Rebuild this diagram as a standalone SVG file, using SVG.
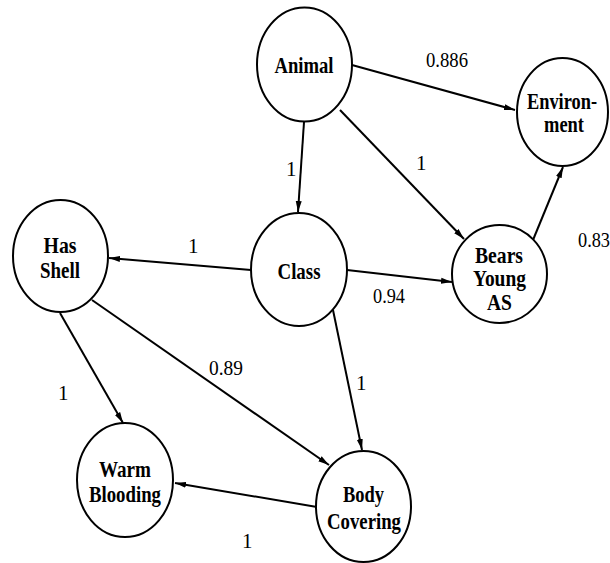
<svg xmlns="http://www.w3.org/2000/svg" width="610" height="563" viewBox="0 0 610 563" font-family="'Liberation Serif', 'DejaVu Serif', 'Times New Roman', serif">
  <defs>
    <marker id="arrow" markerUnits="userSpaceOnUse" markerWidth="12" markerHeight="8" refX="11" refY="0" viewBox="0 -4 12 8" orient="auto">
      <path d="M0,-3 L11,0 L0,3 z" fill="#000"/>
    </marker>
  </defs>
  <style>
    .node ellipse { fill: #fff; stroke: #000; stroke-width: 2; }
    .node text { font-family: 'Liberation Serif', 'DejaVu Serif', serif; font-weight: bold; font-size: 24px; text-anchor: middle; fill: #000; }
    .edge { fill: none; stroke: #000; stroke-width: 2; marker-end: url(#arrow); }
    .w { font-family: 'Liberation Serif', 'DejaVu Serif', serif; font-size: 21px; fill: #000; }
  </style>

  <!-- connectors -->
  <g id="edges">
    <line class="edge" x1="352" y1="65" x2="515" y2="110"/>
    <line class="edge" x1="304" y1="122" x2="298" y2="212"/>
    <line class="edge" x1="340" y1="110" x2="464" y2="239"/>
    <line class="edge" x1="533" y1="240" x2="563" y2="167"/>
    <line class="edge" x1="251" y1="270" x2="109" y2="258"/>
    <line class="edge" x1="347" y1="270" x2="452" y2="282"/>
    <line class="edge" x1="333" y1="310" x2="362" y2="450"/>
    <line class="edge" x1="60" y1="313" x2="123" y2="423"/>
    <line class="edge" x1="92" y1="300" x2="329" y2="465"/>
    <line class="edge" x1="317" y1="507" x2="175" y2="483"/>
  </g>

  <!-- edge weights -->
  <g id="weights">
    <text class="w" x="426" y="67" textLength="42" lengthAdjust="spacingAndGlyphs">0.886</text>
    <text class="w" x="286" y="176">1</text>
    <text class="w" x="416" y="170">1</text>
    <text class="w" x="578" y="247" textLength="32" lengthAdjust="spacingAndGlyphs">0.83</text>
    <text class="w" x="188" y="253">1</text>
    <text class="w" x="373" y="303" textLength="32" lengthAdjust="spacingAndGlyphs">0.94</text>
    <text class="w" x="209" y="375" textLength="34" lengthAdjust="spacingAndGlyphs">0.89</text>
    <text class="w" x="356" y="390">1</text>
    <text class="w" x="58" y="400">1</text>
    <text class="w" x="242" y="548">1</text>
  </g>

  <g id="animal" class="node">
    <ellipse cx="304.5" cy="64.5" rx="47.5" ry="57"/>
    <text x="304" y="73" textLength="59" lengthAdjust="spacingAndGlyphs">Animal</text>
  </g>

  <g id="environment" class="node">
    <ellipse cx="562.5" cy="112" rx="45.5" ry="54"/>
    <text x="562" y="109" textLength="70" lengthAdjust="spacingAndGlyphs">Environ-</text>
    <text x="564" y="132" textLength="40" lengthAdjust="spacingAndGlyphs">ment</text>
  </g>

  <g id="class" class="node">
    <ellipse cx="299" cy="269.5" rx="48" ry="56.5"/>
    <text x="299" y="279" textLength="43" lengthAdjust="spacingAndGlyphs">Class</text>
  </g>

  <g id="has-shell" class="node">
    <ellipse cx="60.5" cy="256" rx="47.5" ry="56"/>
    <text x="60" y="253" textLength="33" lengthAdjust="spacingAndGlyphs">Has</text>
    <text x="60" y="278" textLength="40" lengthAdjust="spacingAndGlyphs">Shell</text>
  </g>

  <g id="bears-young" class="node">
    <ellipse cx="499.5" cy="274" rx="47.5" ry="49"/>
    <text x="499" y="263" textLength="48" lengthAdjust="spacingAndGlyphs">Bears</text>
    <text x="499.5" y="286" textLength="53" lengthAdjust="spacingAndGlyphs">Young</text>
    <text x="499.5" y="310" textLength="25" lengthAdjust="spacingAndGlyphs">AS</text>
  </g>

  <g id="warm-blooding" class="node">
    <ellipse cx="125" cy="480" rx="48" ry="57"/>
    <text x="125" y="477" textLength="52" lengthAdjust="spacingAndGlyphs">Warm</text>
    <text x="125" y="502" textLength="72" lengthAdjust="spacingAndGlyphs">Blooding</text>
  </g>

  <g id="body-covering" class="node">
    <ellipse cx="363.5" cy="506.5" rx="47.5" ry="55.5"/>
    <text x="363.5" y="502" textLength="41" lengthAdjust="spacingAndGlyphs">Body</text>
    <text x="364" y="529" textLength="74" lengthAdjust="spacingAndGlyphs">Covering</text>
  </g>
</svg>
